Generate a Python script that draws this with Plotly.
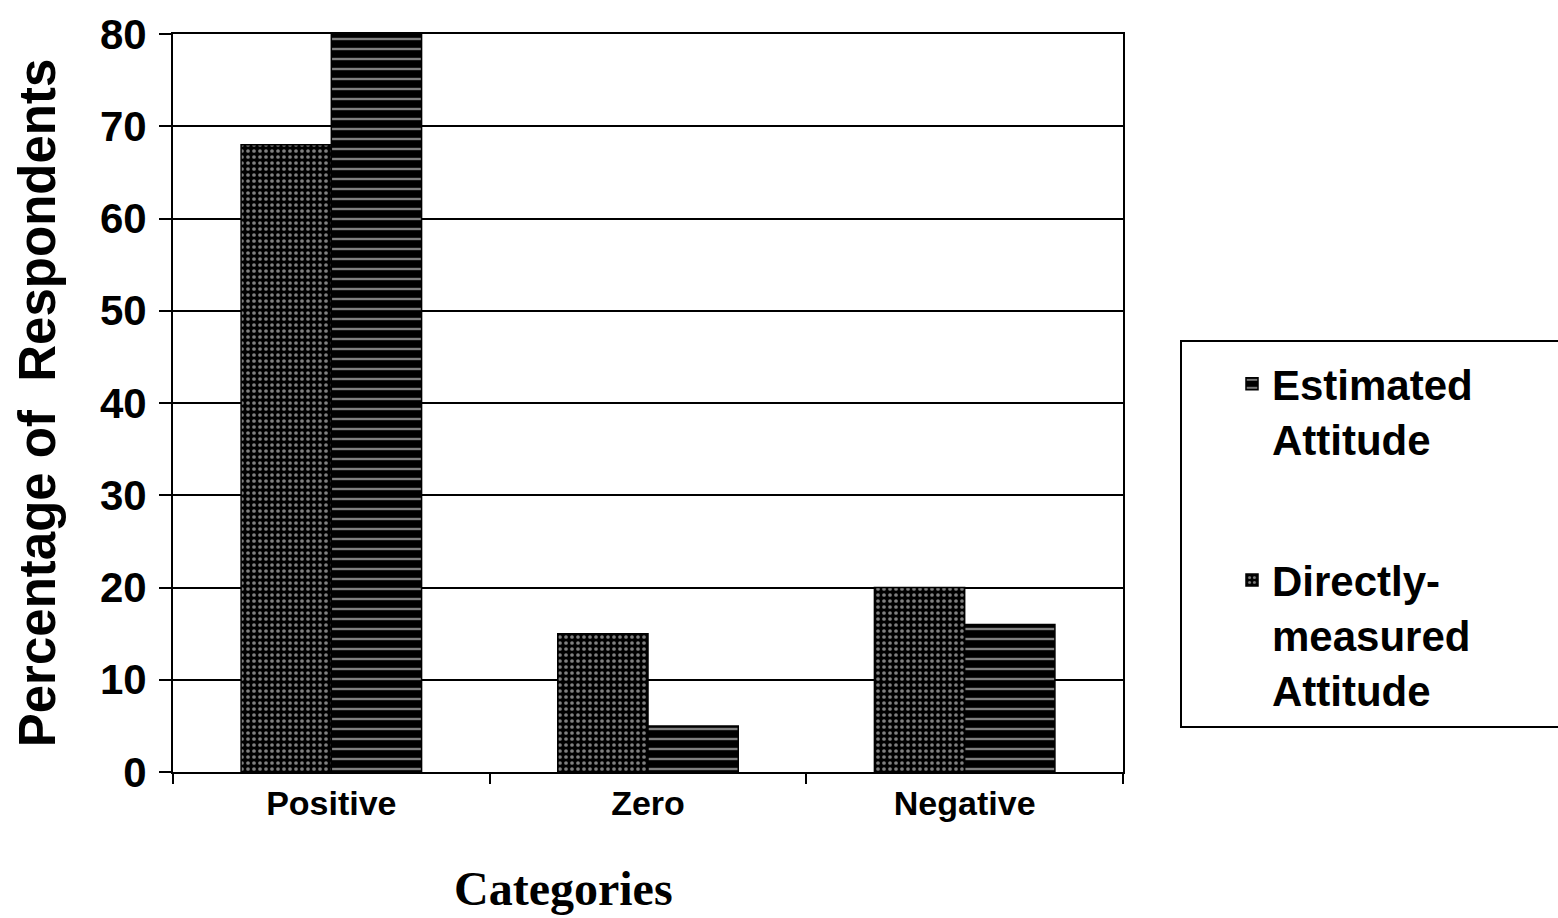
import plotly.graph_objects as go

categories = ["Positive", "Zero", "Negative"]
directly_measured = [68, 15, 20]
estimated = [80, 5, 16]
y_ticks = [0, 10, 20, 30, 40, 50, 60, 70, 80]

W, H = 1558, 918
ML, MR, MT, MB = 173, 435, 34, 146
PW = W - ML - MR
PH = H - MT - MB

def px_x(x):
    return (x - ML) / PW

def px_y(y):
    return (H - MB - y) / PH

sans = "Liberation Sans, Arial, Helvetica, sans-serif"

fig = go.Figure()
fig.add_trace(go.Bar(
    x=categories, y=directly_measured,
    name="Directly-<br>measured<br>Attitude",
    legendgroup="d", legendrank=2,
    marker=dict(color="black", line=dict(color="black", width=1.5),
                pattern=dict(shape=".", fillmode="overlay", bgcolor="black",
                             fgcolor="white", size=6, solidity=0.3)),
))
fig.add_trace(go.Bar(
    x=categories, y=estimated,
    name="Estimated<br>Attitude",
    legendgroup="e", legendrank=1,
    marker=dict(color="black", line=dict(color="black", width=1.5),
                pattern=dict(shape="-", fillmode="overlay", bgcolor="black",
                             fgcolor="white", size=10, solidity=0.24)),
))

fig.update_layout(
    width=W, height=H,
    margin=dict(l=ML, r=MR, t=MT, b=MB, autoexpand=False),
    paper_bgcolor="white", plot_bgcolor="white",
    barmode="group", bargap=0.43, bargroupgap=0,
    font=dict(family=sans, color="black"),
    legend=dict(
        x=px_x(1232), y=px_y(350), xanchor="left", yanchor="top",
        traceorder="grouped", tracegroupgap=84, valign="top",
        font=dict(family=sans, size=42, weight="bold", color="black"),
        bgcolor="rgba(0,0,0,0)", borderwidth=0,
    ),
    shapes=[dict(type="rect", xref="paper", yref="paper",
                 x0=px_x(1181), x1=px_x(1570), y0=px_y(727), y1=px_y(341),
                 line=dict(color="black", width=2), fillcolor="rgba(0,0,0,0)")],
    annotations=[dict(text="Categories", xref="paper", yref="paper",
                      x=px_x(563), y=px_y(889), xanchor="center", yanchor="middle",
                      showarrow=False,
                      font=dict(family="Liberation Serif, Times New Roman, serif",
                                size=48, weight="bold", color="black"))],
)

fig.update_yaxes(
    range=[0, 80], tickvals=y_ticks, ticktext=[str(v) for v in y_ticks],
    showgrid=True, gridcolor="black", gridwidth=2,
    showline=True, linecolor="black", linewidth=2, mirror=True,
    ticks="outside", ticklen=12, tickwidth=2, tickcolor="black",
    tickfont=dict(family=sans, size=42, weight="bold"),
    ticklabelstandoff=4,
    zeroline=False,
    title=dict(text="Percentage of\u00a0 Respondents", standoff=28,
               font=dict(family=sans, size=51, weight="bold")),
)
fig.update_xaxes(
    showline=True, linecolor="black", linewidth=2, mirror=True,
    ticks="outside", ticklen=10, tickwidth=2, tickcolor="black",
    tickson="boundaries",
    tickfont=dict(family=sans, size=34, weight="bold"),
)

fig.write_html("out.html")
